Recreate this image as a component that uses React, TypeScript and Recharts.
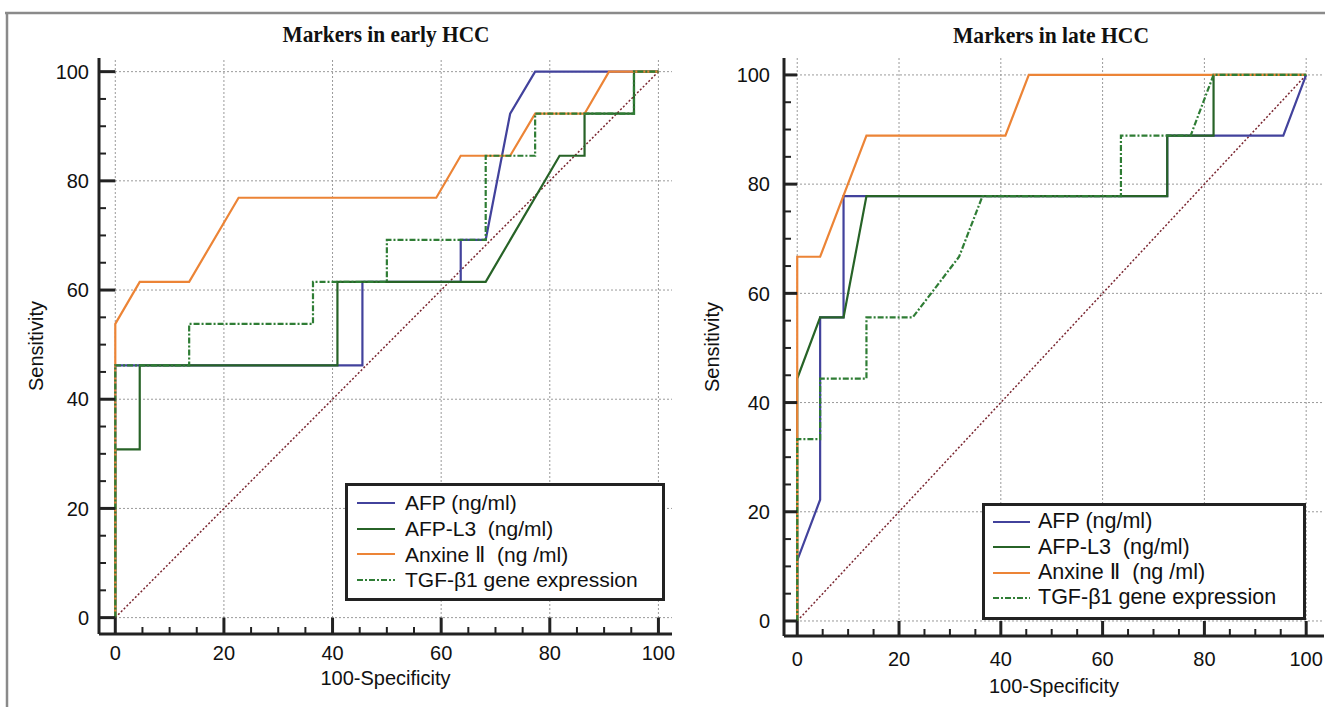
import React from "react";
import { LineChart, Line, XAxis, YAxis, ReferenceLine, Legend } from "recharts";

type Pt = { x: number; y: number };

// tick values (every 5, labels on every 20)
const majorTicks = [0, 20, 40, 60, 80, 100];
const minorTicks = [0, 5, 10, 15, 20, 25, 30, 35, 40, 45, 50, 55, 60, 65, 70, 75, 80, 85, 90, 95, 100];

const seriesNames = ["AFP (ng/ml)", "AFP-L3  (ng/ml)", "Anxine \u2161  (ng /ml)", "TGF-\u03b21 gene expression"];
const seriesColors = ["#42429c", "#276327", "#ec8436", "#2f7d35"];
const seriesDash = ["", "", "", "6 2 2 2"];

const diagonal: Pt[] = [
  { x: 0, y: 0 },
  { x: 100, y: 100 },
];

// early HCC
const earlyAfp: Pt[] = [
  { x: 0, y: 0 }, { x: 0, y: 46.2 }, { x: 45.5, y: 46.2 }, { x: 45.5, y: 61.5 }, { x: 63.6, y: 61.5 },
  { x: 63.6, y: 69.2 }, { x: 68.2, y: 69.2 }, { x: 72.7, y: 92.3 }, { x: 77.3, y: 100 }, { x: 100, y: 100 },
];
const earlyAfpL3: Pt[] = [
  { x: 0, y: 0 }, { x: 0, y: 30.8 }, { x: 4.5, y: 30.8 }, { x: 4.5, y: 46.2 }, { x: 40.9, y: 46.2 },
  { x: 40.9, y: 61.5 }, { x: 68.2, y: 61.5 }, { x: 81.8, y: 84.6 }, { x: 86.4, y: 84.6 }, { x: 86.4, y: 92.3 },
  { x: 95.5, y: 92.3 }, { x: 95.5, y: 100 }, { x: 100, y: 100 },
];
const earlyAnx: Pt[] = [
  { x: 0, y: 0 }, { x: 0, y: 53.8 }, { x: 4.5, y: 61.5 }, { x: 13.6, y: 61.5 }, { x: 22.7, y: 76.9 },
  { x: 59.1, y: 76.9 }, { x: 63.6, y: 84.6 }, { x: 72.7, y: 84.6 }, { x: 77.3, y: 92.3 }, { x: 86.4, y: 92.3 },
  { x: 90.9, y: 100 }, { x: 100, y: 100 },
];
const earlyTgf: Pt[] = [
  { x: 0, y: 0 }, { x: 0, y: 46.2 }, { x: 13.6, y: 46.2 }, { x: 13.6, y: 53.8 }, { x: 36.4, y: 53.8 },
  { x: 36.4, y: 61.5 }, { x: 50, y: 61.5 }, { x: 50, y: 69.2 }, { x: 68.2, y: 69.2 }, { x: 68.2, y: 84.6 },
  { x: 77.3, y: 84.6 }, { x: 77.3, y: 92.3 }, { x: 95.5, y: 92.3 }, { x: 95.5, y: 100 }, { x: 100, y: 100 },
];

// late HCC
const lateAfp: Pt[] = [
  { x: 0, y: 0 }, { x: 0, y: 11.1 }, { x: 4.5, y: 22.2 }, { x: 4.5, y: 55.6 }, { x: 9.1, y: 55.6 },
  { x: 9.1, y: 77.8 }, { x: 72.7, y: 77.8 }, { x: 72.7, y: 88.9 }, { x: 95.5, y: 88.9 }, { x: 100, y: 100 },
];
const lateAfpL3: Pt[] = [
  { x: 0, y: 0 }, { x: 0, y: 44.4 }, { x: 4.5, y: 55.6 }, { x: 9.1, y: 55.6 }, { x: 13.6, y: 77.8 },
  { x: 72.7, y: 77.8 }, { x: 72.7, y: 88.9 }, { x: 81.8, y: 88.9 }, { x: 81.8, y: 100 }, { x: 100, y: 100 },
];
const lateAnx: Pt[] = [
  { x: 0, y: 0 }, { x: 0, y: 66.7 }, { x: 4.5, y: 66.7 }, { x: 13.6, y: 88.9 }, { x: 40.9, y: 88.9 },
  { x: 45.5, y: 100 }, { x: 100, y: 100 },
];
const lateTgf: Pt[] = [
  { x: 0, y: 0 }, { x: 0, y: 33.3 }, { x: 4.5, y: 33.3 }, { x: 4.5, y: 44.4 }, { x: 13.6, y: 44.4 },
  { x: 13.6, y: 55.6 }, { x: 22.7, y: 55.6 }, { x: 31.8, y: 66.7 }, { x: 36.4, y: 77.8 }, { x: 63.6, y: 77.8 },
  { x: 63.6, y: 88.9 }, { x: 77.3, y: 88.9 }, { x: 81.8, y: 100 }, { x: 100, y: 100 },
];

const FONT = "'Liberation Sans', Arial, 'DejaVu Sans', sans-serif";
const AXIS = "#222";
const GRID = "#9a9a9a";

function xTick(len: number, dy: number) {
  return (p: any) => {
    const v = p.payload.value;
    const major = majorTicks.includes(v);
    return (
      <g>
        <line x1={p.x} x2={p.x} y1={p.y} y2={p.y - (major ? len : 7)} stroke={AXIS} strokeWidth={major ? 3 : 2} />
        {major && (
          <text x={p.x} y={p.y + dy} textAnchor="middle" fontSize={20} fontFamily={FONT} fill="#111">
            {v}
          </text>
        )}
      </g>
    );
  };
}

function yTick(len: number, gap: number) {
  return (p: any) => {
    const v = p.payload.value;
    const major = majorTicks.includes(v);
    return (
      <g>
        <line x1={p.x} x2={p.x + (major ? len : 7)} y1={p.y} y2={p.y} stroke={AXIS} strokeWidth={major ? 3 : 2} />
        {major && (
          <text x={p.x - gap} y={p.y} dy="0.36em" textAnchor="end" fontSize={20} fontFamily={FONT} fill="#111">
            {v}
          </text>
        )}
      </g>
    );
  };
}

function LegendBox({ w, h, padTop, rowH, padLeft, lineW, gap, fontSize }: any) {
  return (
    <div
      style={{
        width: w,
        height: h,
        boxSizing: "border-box",
        border: "3px solid #222",
        background: "#fff",
        paddingTop: padTop,
        paddingLeft: padLeft,
      }}
    >
      {seriesNames.map((name, i) => (
        <div key={name} style={{ display: "flex", alignItems: "center", height: rowH }}>
          <svg width={lineW} height={6} style={{ display: "block" }}>
            <line
              x1={0}
              x2={lineW}
              y1={3}
              y2={3}
              stroke={seriesColors[i]}
              strokeWidth={2}
              strokeDasharray={seriesDash[i] || undefined}
            />
          </svg>
          <span
            style={{
              marginLeft: gap,
              fontSize,
              fontFamily: FONT,
              color: "#111",
              whiteSpace: "pre",
              lineHeight: 1,
            }}
          >
            {name}
          </span>
        </div>
      ))}
    </div>
  );
}

interface RocProps {
  series: Pt[][];
  width: number;
  height: number;
  margin: { top: number; right: number; left: number; bottom: number };
  yAxisWidth: number;
  xAxisHeight: number;
  xDomain: [number, number];
  yDomain: [number, number];
  xTickLen: number;
  yTickLen: number;
  xLabelDy: number;
  yLabelGap: number;
  xTitleOffset: number;
  yTitleOffset: number;
  legendPos: { left: number; top: number };
  legendBox: any;
}

function RocChart(p: RocProps) {
  return (
    <LineChart width={p.width} height={p.height} margin={p.margin}>
      <XAxis
        type="number"
        dataKey="x"
        domain={p.xDomain}
        ticks={minorTicks}
        interval={0}
        tickSize={0}
        tickMargin={0}
        tickLine={false}
        tick={xTick(p.xTickLen, p.xLabelDy)}
        axisLine={{ stroke: AXIS, strokeWidth: 3 }}
        height={p.xAxisHeight}
        allowDataOverflow
        label={{
          value: "100-Specificity",
          position: "insideBottom",
          offset: p.xTitleOffset,
          fontSize: 20,
          fontFamily: FONT,
          fill: "#111",
        }}
      />
      <YAxis
        type="number"
        dataKey="y"
        domain={p.yDomain}
        ticks={minorTicks}
        interval={0}
        tickSize={0}
        tickMargin={0}
        tickLine={false}
        tick={yTick(p.yTickLen, p.yLabelGap)}
        axisLine={{ stroke: AXIS, strokeWidth: 3 }}
        width={p.yAxisWidth}
        allowDataOverflow
        label={{
          value: "Sensitivity",
          angle: -90,
          position: "insideLeft",
          offset: p.yTitleOffset,
          fontSize: 20,
          fontFamily: FONT,
          fill: "#111",
          style: { textAnchor: "middle" },
        }}
      />
      {majorTicks.map((v) => (
        <ReferenceLine key={"gx" + v} x={v} stroke={GRID} strokeDasharray="2 2" strokeWidth={1} />
      ))}
      {majorTicks.map((v) => (
        <ReferenceLine key={"gy" + v} y={v} stroke={GRID} strokeDasharray="2 2" strokeWidth={1} />
      ))}
      <Line
        data={diagonal}
        dataKey="y"
        type="linear"
        stroke="#7a2630"
        strokeWidth={1.5}
        strokeDasharray="2 2"
        dot={false}
        legendType="none"
        isAnimationActive={false}
      />
      {p.series.map((d, i) => (
        <Line
          key={seriesNames[i]}
          data={d}
          dataKey="y"
          name={seriesNames[i]}
          type="linear"
          stroke={seriesColors[i]}
          strokeWidth={2.2}
          strokeDasharray={seriesDash[i] || undefined}
          dot={false}
          isAnimationActive={false}
        />
      ))}
      <Legend
        layout="vertical"
        align="center"
        verticalAlign="middle"
        wrapperStyle={{ left: p.legendPos.left, top: p.legendPos.top, width: p.legendBox.w }}
        content={() => <LegendBox {...p.legendBox} />}
      />
    </LineChart>
  );
}

export default function App() {
  return (
    <div
      style={{
        position: "absolute",
        left: 0,
        top: 0,
        width: 1325,
        height: 707,
        background: "#fff",
        overflow: "hidden",
      }}
    >
      <svg width={1325} height={707} style={{ position: "absolute", left: 0, top: 0 }}>
        <line x1={5} x2={1325} y1={13} y2={13} stroke="#8a8a8a" strokeWidth={2.5} />
        <line x1={7} x2={7} y1={12} y2={707} stroke="#8a8a8a" strokeWidth={2.5} />
        <text
          x={386}
          y={42}
          textAnchor="middle"
          fontSize={24}
          fontWeight="bold"
          fontFamily="'Liberation Serif', 'Times New Roman', serif"
          textLength={207}
          lengthAdjust="spacingAndGlyphs"
          fill="#111"
        >
          Markers in early HCC
        </text>
        <text
          x={1051}
          y={43}
          textAnchor="middle"
          fontSize={24}
          fontWeight="bold"
          fontFamily="'Liberation Serif', 'Times New Roman', serif"
          textLength={196}
          lengthAdjust="spacingAndGlyphs"
          fill="#111"
        >
          Markers in late HCC
        </text>
      </svg>
      <div style={{ position: "absolute", left: 0, top: 0 }}>
        <RocChart
          series={[earlyAfp, earlyAfpL3, earlyAnx, earlyTgf]}
          width={680}
          height={707}
          margin={{ top: 58, right: 8, left: 0, bottom: 0 }}
          yAxisWidth={99}
          xAxisHeight={73}
          xDomain={[-3, 102.5]}
          yDomain={[-3, 102.5]}
          xTickLen={16.4}
          yTickLen={16.3}
          xLabelDy={26}
          yLabelGap={10}
          xTitleOffset={22}
          yTitleOffset={36}
          legendPos={{ left: 345, top: 483 }}
          legendBox={{ w: 320, h: 118, padTop: 4, rowH: 25.7, padLeft: 9, lineW: 38, gap: 10, fontSize: 21 }}
        />
      </div>
      <div style={{ position: "absolute", left: 680, top: 0 }}>
        <RocChart
          series={[lateAfp, lateAfpL3, lateAnx, lateTgf]}
          width={645}
          height={707}
          margin={{ top: 58, right: 1, left: 0, bottom: 0 }}
          yAxisWidth={104}
          xAxisHeight={71}
          xDomain={[-2.6, 103.5]}
          yDomain={[-2.75, 103.1]}
          xTickLen={15}
          yTickLen={13.2}
          xLabelDy={30}
          yLabelGap={14}
          xTitleOffset={14}
          yTitleOffset={32}
          legendPos={{ left: 302, top: 503 }}
          legendBox={{ w: 324, h: 117, padTop: 3.5, rowH: 25.3, padLeft: 8, lineW: 37, gap: 8, fontSize: 21.5 }}
        />
      </div>
    </div>
  );
}
